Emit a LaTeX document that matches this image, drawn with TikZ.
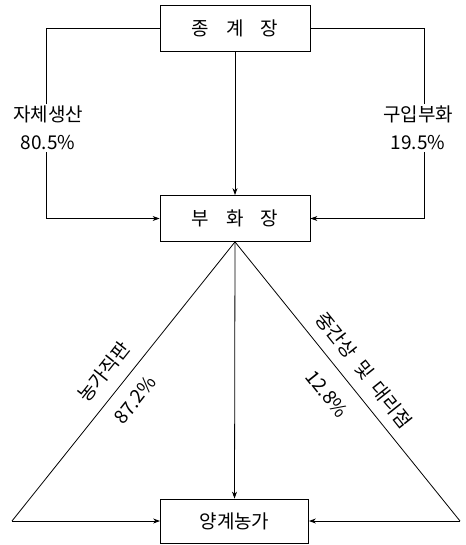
\documentclass[tikz,border=0pt]{standalone}
\usepackage{fontspec}
\newfontfamily\kr{Noto Sans CJK KR}
\usetikzlibrary{arrows.meta}
\begin{document}
\begin{tikzpicture}[x=1pt,y=-1pt,
  font=\kr\fontsize{19}{22}\selectfont,
  line width=0.8pt,
  box/.style={draw, minimum width=150pt, minimum height=46pt, inner sep=0pt},
  arr/.style={-{Stealth[length=7pt,width=5pt]}},
  lab/.style={fill=white, align=center, inner sep=2pt},
  slope/.style={inner sep=0pt}]
\useasboundingbox (0,0) rectangle (465,545);
\node[box] (a) at (235,28.5) {종\hspace{0.9em}계\hspace{0.9em}장};
\node[box] (b) at (235,218.5) {부\hspace{0.9em}화\hspace{0.9em}장};
\node[box, minimum width=148pt, minimum height=44pt] (c) at (234.5,521) {양계농가};
\draw[arr] (a.west) -- ++(-113,0) coordinate (al) |- (b.west);
\draw[arr] (a.east) -- ++(114,0) coordinate (ar) |- (b.east);
\draw[arr] (a.south) -- (b.north);
\node[lab] (ll) at (48,128) {자체생산\\[6pt]80.5\%};
\node[lab] (rl) at (418,128) {구입부화\\[6pt]19.5\%};
\coordinate (bl) at (12,521);
\coordinate (br) at (460,521);
\draw (b.south) -- (bl);
\draw (b.south) -- (br);
\draw[arr] (bl) -- (c.west);
\draw[arr] (br) -- (c.east);
\draw[arr] (b.south) -- (c.north);
\node[slope, rotate=51.5] (l1) at (104,372) {농가직판};
\node[slope, rotate=51.5] (l2) at (135,400) {87.2\%};
\node[slope, rotate=-51.5] (r1) at (364,370) {중간상\hspace{0.5em}및\hspace{0.5em}대리점};
\node[slope, rotate=-51.5] (r2) at (327,394) {12.8\%};
\end{tikzpicture}
\end{document}
